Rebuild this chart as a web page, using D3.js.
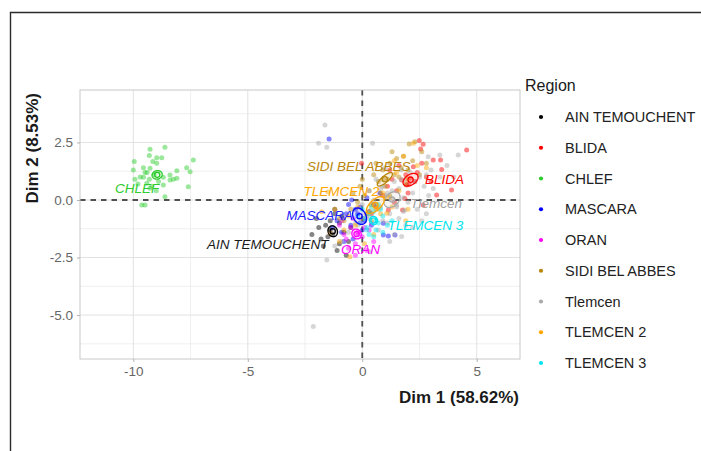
<!DOCTYPE html>
<html>
<head>
<meta charset="utf-8">
<script src="https://cdn.jsdelivr.net/npm/d3@7"></script>
<style>
  html, body { margin: 0; padding: 0; background: #fff; }
  svg { display: block; font-family: "Liberation Sans", Arial, Helvetica, sans-serif; }
</style>
</head>
<body>
<svg id="chart" width="701" height="451"></svg>
<script>
// ---- Individuals on the first factorial plane, grouped by region ----
const regions = ["AIN TEMOUCHENT", "BLIDA", "CHLEF", "MASCARA", "ORAN",
                 "SIDI BEL ABBES", "Tlemcen", "TLEMCEN 2", "TLEMCEN 3"];
const regionColors = ["#000000", "#ff0000", "#2ecc2e", "#0000ff", "#ff00ff",
                      "#b8860b", "#aaaaaa", "#ffa500", "#00e5ee"];

// Coordinates (Dim 1, Dim 2) of each individual
const ainTemouchent = [
  [-1.0,-1.0],[-1.5,-1.6],[-0.8,-1.4],[-1.9,-1.2],[-1.2,-0.6],[-0.6,-1.8],[-1.7,-2.0],
  [-1.4,-0.9],[-2.2,-1.5],[-0.9,-0.7],[-1.1,-2.2],[-1.6,-1.1],[-0.5,-1.2],[-2.0,-0.8],
  [-1.3,-1.5],[-0.7,-2.4],[-1.8,-1.7],[-1.2,-0.4],[-1.0,-1.9],[-1.4,-1.3]
];
const blida = [
  [2.49,2.58],[2.66,2.42],[2.55,2.22],[4.56,2.17],[3.10,1.74],[3.42,1.74],[3.47,1.33],
  [3.90,0.43],[3.25,0.22],[2.66,-0.22],[1.86,0.07],[1.94,0.65],[1.72,0.87],[2.23,1.45],
  [1.76,-0.43],[1.14,-0.43],[-0.03,1.60],[2.10,0.95],[2.30,0.80],[1.90,1.10],[2.05,0.70],
  [2.40,1.20],[1.50,0.40],[1.30,0.90],[0.90,0.20],[2.80,1.00],[1.60,1.50],[0.60,-0.30],
  [2.00,0.30],[1.20,1.30],[3.00,0.80],[1.40,-0.10],[2.60,1.60],[0.40,-0.60],[1.10,0.60]
];
const chlef = [
  [-8.62,2.29],[-9.27,2.20],[-9.30,1.93],[-8.98,1.84],[-8.76,1.84],[-9.96,1.67],[-9.15,1.67],
  [-8.98,1.60],[-7.38,1.74],[-7.67,1.40],[-7.52,1.23],[-8.10,1.27],[-9.56,1.40],[-9.27,1.38],
  [-10.0,1.30],[-9.49,1.19],[-8.40,1.09],[-8.25,0.90],[-8.10,0.94],[-9.93,0.90],[-9.56,0.99],
  [-8.69,0.65],[-7.60,0.58],[-9.27,0.51],[-8.62,0.14],[-9.63,-0.22],[-9.49,-0.22],[-8.69,0.99],
  [-9.41,0.73],[-8.40,0.87],[-9.10,1.10],[-9.30,0.90],[-9.70,1.00],[-9.00,0.40],[-9.40,1.20],
  [-9.80,0.70],[-9.20,0.60],[-8.90,0.80]
];
const mascara = [
  [-1.45,2.65],[-0.46,0.00],[0.77,0.29],[-0.83,-0.80],[0.92,-1.01],[0.92,-1.52],[1.14,-1.57],
  [1.43,-1.52],[-0.20,-0.60],[0.10,-0.90],[-0.50,-1.10],[-0.30,-0.40],[0.30,-0.50],[-0.70,-0.60],
  [0.00,-1.30],[-0.90,-1.40],[0.50,-0.20],[-1.10,-0.90],[-0.40,-1.70],[0.20,0.10],[-0.60,-0.20],
  [-1.30,-1.20],[0.40,-1.10],[-0.10,-0.30],[-0.80,-1.80]
];
const oran = [
  [-0.5,-1.2],[0.0,-1.6],[-0.3,-1.9],[0.3,-1.3],[-0.8,-1.5],[-0.1,-1.0],[0.5,-1.8],[-0.6,-2.1],
  [-0.2,-1.4],[0.2,-2.2],[-1.0,-1.1],[-0.4,-0.8],[0.1,-1.2],[-0.7,-1.7],[-0.3,-2.4],[0.4,-1.0],
  [-0.9,-0.9],[-0.2,-1.5]
];
const sidiBelAbbes = [
  [2.30,2.53],[2.05,2.43],[2.60,2.10],[1.80,1.90],[2.20,1.70],[1.50,1.80],[1.70,1.40],[1.20,1.60],
  [1.40,1.10],[0.90,1.30],[1.10,0.90],[0.70,0.80],[0.50,1.10],[0.30,0.40],[0.80,0.30],[0.10,0.20],
  [-0.20,-0.10],[0.40,-0.20],[-0.50,-0.40],[1.00,0.60],[1.60,1.00],[2.00,1.30],[2.80,1.60],
  [-1.00,-0.80],[0.60,1.60],[-0.10,0.60],[1.30,2.10],[2.50,1.10],[0.20,-0.60],[-0.80,-0.90],
  [1.90,0.70],[0.00,0.90],[1.20,0.20],[0.90,0.90],[-0.40,0.30]
];
const tlemcen = [
  [-2.14,-5.50],[-1.63,3.26],[-1.91,2.47],[-1.55,2.29],[0.45,2.47],[4.19,1.96],[3.39,1.96],
  [2.88,1.88],[1.50,-0.22],[1.86,-0.43],[1.72,-1.59],[1.35,0.00],[0.34,-2.25],[-1.55,-2.61],
  [1.0,0.2],[1.6,0.5],[2.2,0.3],[0.8,-0.3],[1.2,-0.6],[2.5,1.0],[3.0,1.3],[0.5,0.0],[1.9,0.9],
  [2.7,0.6],[0.2,-0.7],[1.4,0.8],[2.0,-0.1],[3.4,1.0],[0.9,0.6],[1.7,1.3],[2.8,-0.6],[-0.3,-1.0],
  [1.1,-1.0],[2.9,0.2],[0.6,0.9],[1.8,0.1],[3.7,1.5],[-0.6,-1.4],[1.3,0.4],[2.4,-0.4],[0.0,-0.2],
  [1.9,-1.1],[2.1,1.2],[3.1,0.5],[0.7,-1.3],[1.0,1.4],[2.6,-0.9],[-0.9,-1.8],[1.6,-0.8],[0.3,0.4],
  [1.4,-1.5],[2.2,-1.2],[1.2,-1.8],[4.0,1.0],[-1.2,-2.0],
  [0.8,0.5],[1.8,-0.5],[2.3,0.8],[0.3,-0.8],[1.7,0.9],[0.9,-0.9],[2.8,1.1],[-0.2,-1.1],
  [1.1,0.3],[1.5,-0.3]
];
const tlemcen2 = [
  [2.23,2.47],[1.80,1.90],[2.40,1.50],[1.50,1.20],[1.07,-0.58],[-1.50,0.35],[-0.54,-2.47],
  [-1.77,-0.51],[-1.41,-1.43],[0.60,-0.20],[0.90,0.30],[0.30,-0.50],[1.20,0.10],[0.00,-0.80],
  [0.70,-0.40],[-0.30,-1.10],[1.60,0.40],[0.40,-0.90],[2.00,0.90],[-0.80,-1.30],[1.30,-0.30],
  [0.20,-0.60],[2.80,1.40],[-1.00,-1.80],[0.80,-0.60],[1.00,0.10],[-0.20,-0.30],[0.50,-1.50],
  [1.90,-0.90],[-1.20,-0.40],[2.00,-0.40],[0.10,-1.90],[1.40,1.70],[-0.60,-0.70],[0.60,-0.40]
];
const tlemcen3 = [
  [0.3,-0.6],[0.7,-1.0],[0.5,-0.5],[0.2,-1.2],[0.9,-0.7],[0.6,-1.3],[0.1,-0.8],[1.1,-1.1],
  [0.4,-0.3],[0.8,-0.4],[-0.1,-1.0],[0.5,-1.6],[1.3,-0.9],[0.0,-0.4],[0.7,-0.2],[0.3,-1.5],
  [0.9,-1.4],[-0.2,-0.7],[0.6,-0.9],[0.2,-1.3]
];
const regionPoints = [ainTemouchent, blida, chlef, mascara, oran,
                      sidiBelAbbes, tlemcen, tlemcen2, tlemcen3];

// Axes
const xTicks = [-10, -5, 0, 5];
const xMinorTicks = [-7.5, -2.5, 2.5];
const yTicks = [2.5, 0, -2.5, -5];
const yMinorTicks = [3.75, 1.25, -1.25, -3.75, -6.25];
const xTickLabels = ["-10", "-5", "0", "5"];
const yTickLabels = ["2.5", "0.0", "-2.5", "-5.0"];
const xTitle = "Dim 1 (58.62%)";
const yTitle = "Dim 2 (8.53%)";
const legendTitle = "Region";

// ---- layout ----
const panel = { left: 80, right: 520, top: 90, bottom: 359 };
const svg = d3.select("#chart");

const x = d3.scaleLinear().domain([-12.33, 6.89]).range([panel.left, panel.right]);
const y = d3.scaleLinear().domain([-6.91, 4.78]).range([panel.bottom, panel.top]);

// page frame
svg.append("path")
  .attr("d", "M10.5,451 L10.5,12.5 L701,12.5")
  .attr("fill", "none").attr("stroke", "#2b2b2b").attr("stroke-width", 1.4);

svg.append("defs").append("clipPath").attr("id", "panelClip")
  .append("rect")
  .attr("x", panel.left).attr("y", panel.top)
  .attr("width", panel.right - panel.left).attr("height", panel.bottom - panel.top);

// grid
const grid = svg.append("g");
grid.selectAll(".vminor").data(xMinorTicks).join("line")
  .attr("x1", d => x(d)).attr("x2", d => x(d))
  .attr("y1", panel.top).attr("y2", panel.bottom)
  .attr("stroke", "#ebebeb").attr("stroke-width", 0.8);
grid.selectAll(".hminor").data(yMinorTicks).join("line")
  .attr("y1", d => y(d)).attr("y2", d => y(d))
  .attr("x1", panel.left).attr("x2", panel.right)
  .attr("stroke", "#ebebeb").attr("stroke-width", 0.8);
grid.selectAll(".vmajor").data(xTicks).join("line")
  .attr("x1", d => x(d)).attr("x2", d => x(d))
  .attr("y1", panel.top).attr("y2", panel.bottom)
  .attr("stroke", "#e2e2e2").attr("stroke-width", 1);
grid.selectAll(".hmajor").data(yTicks).join("line")
  .attr("y1", d => y(d)).attr("y2", d => y(d))
  .attr("x1", panel.left).attr("x2", panel.right)
  .attr("stroke", "#e2e2e2").attr("stroke-width", 1);

// reference lines through the origin
svg.append("line")
  .attr("x1", panel.left).attr("x2", panel.right).attr("y1", y(0)).attr("y2", y(0))
  .attr("stroke", "#505050").attr("stroke-width", 1.8).attr("stroke-dasharray", "5.5,5");
svg.append("line")
  .attr("y1", panel.top).attr("y2", panel.bottom).attr("x1", x(0)).attr("x2", x(0))
  .attr("stroke", "#505050").attr("stroke-width", 1.8).attr("stroke-dasharray", "5.5,5");

// individuals
const plot = svg.append("g").attr("clip-path", "url(#panelClip)");
regions.forEach((r, i) => {
  plot.append("g").selectAll("circle").data(regionPoints[i]).join("circle")
    .attr("cx", d => x(d[0])).attr("cy", d => y(d[1])).attr("r", 2.5)
    .attr("fill", regionColors[i]).attr("fill-opacity", 0.48);
});

// concentration ellipses around each group mean (covariance of the mean)
const ellipseLevel = 0.85;
const chi2q = -2 * Math.log(1 - ellipseLevel);   // chi-square quantile, 2 d.f.
function groupSummary(pts) {
  const n = pts.length;
  const mx = d3.mean(pts, d => d[0]), my = d3.mean(pts, d => d[1]);
  let sxx = 0, syy = 0, sxy = 0;
  pts.forEach(([a, b]) => { sxx += (a - mx) ** 2; syy += (b - my) ** 2; sxy += (a - mx) * (b - my); });
  sxx /= (n - 1) * n; syy /= (n - 1) * n; sxy /= (n - 1) * n;
  const tr = sxx + syy, det = sxx * syy - sxy * sxy;
  const disc = Math.sqrt(Math.max(tr * tr / 4 - det, 0));
  const l1 = tr / 2 + disc, l2 = Math.max(tr / 2 - disc, 0);
  const phi = 0.5 * Math.atan2(2 * sxy, sxx - syy);
  return { mx, my, a: Math.sqrt(chi2q * l1), b: Math.sqrt(chi2q * l2), phi };
}
const summaries = regionPoints.map(groupSummary);
const ellipseLine = d3.line().curve(d3.curveLinearClosed);
const angles = d3.range(0, 2 * Math.PI, Math.PI / 40);

const ell = svg.append("g").attr("clip-path", "url(#panelClip)");
summaries.forEach((s, i) => {
  const pts = angles.map(t => {
    const dx = s.a * Math.cos(t) * Math.cos(s.phi) - s.b * Math.sin(t) * Math.sin(s.phi);
    const dy = s.a * Math.cos(t) * Math.sin(s.phi) + s.b * Math.sin(t) * Math.cos(s.phi);
    return [x(s.mx + dx), y(s.my + dy)];
  });
  ell.append("path").attr("d", ellipseLine(pts))
    .attr("fill", regionColors[i]).attr("fill-opacity", 0.12)
    .attr("stroke", regionColors[i]).attr("stroke-width", 1.3);
  ell.append("circle").attr("cx", x(s.mx)).attr("cy", y(s.my)).attr("r", 2.6)
    .attr("fill", "none").attr("stroke", regionColors[i]).attr("stroke-width", 1.3);
});

// group labels, nudged away from their means
const labelNudge = {
  "AIN TEMOUCHENT": [-65, 13], "BLIDA": [34, 0], "CHLEF": [-20, 13],
  "MASCARA": [-40, -1], "ORAN": [4, 15], "SIDI BEL ABBES": [-26, -13],
  "Tlemcen": [44, 4], "TLEMCEN 2": [-34, -14], "TLEMCEN 3": [52, 5]
};
const labelColors = ["#1a1a1a", "#ff0000", "#2ecc2e", "#2222ff", "#ff00ff",
                     "#b8860b", "#a0a0a0", "#ffa500", "#00e5ee"];
regions.forEach((r, i) => {
  const s = summaries[i];
  svg.append("text")
    .attr("x", x(s.mx) + labelNudge[r][0]).attr("y", y(s.my) + labelNudge[r][1])
    .attr("dy", "0.35em").attr("text-anchor", "middle")
    .attr("font-style", "italic").attr("font-size", 13.5)
    .attr("fill", labelColors[i]).text(r);
});

// panel border
svg.append("rect")
  .attr("x", panel.left).attr("y", panel.top)
  .attr("width", panel.right - panel.left).attr("height", panel.bottom - panel.top)
  .attr("fill", "none").attr("stroke", "#c8c8c8").attr("stroke-width", 1);

// axes
const xAxis = svg.append("g").attr("transform", `translate(0,${panel.bottom})`)
  .call(d3.axisBottom(x).tickValues(xTicks).tickFormat((d, i) => xTickLabels[i])
    .tickSize(3).tickPadding(4));
const yAxis = svg.append("g").attr("transform", `translate(${panel.left},0)`)
  .call(d3.axisLeft(y).tickValues(yTicks).tickFormat((d, i) => yTickLabels[i])
    .tickSize(3).tickPadding(4));
[xAxis, yAxis].forEach(g => {
  g.select(".domain").remove();
  g.selectAll(".tick line").attr("stroke", "#b3b3b3");
  g.selectAll(".tick text").attr("fill", "#666").attr("font-size", 13.5)
    .attr("font-family", "Liberation Sans, Arial, sans-serif");
});

svg.append("text").attr("x", 519).attr("y", 403).attr("text-anchor", "end")
  .attr("font-weight", "bold").attr("font-size", 17).attr("fill", "#1a1a1a").text(xTitle);
svg.append("text").attr("transform", "translate(38,93) rotate(-90)")
  .attr("text-anchor", "end")
  .attr("font-weight", "bold").attr("font-size", 17).attr("fill", "#1a1a1a").text(yTitle);

// legend
const legend = svg.append("g");
legend.append("text").attr("x", 525).attr("y", 91).attr("font-size", 16)
  .attr("fill", "#1a1a1a").text(legendTitle);
const item = legend.selectAll(".item").data(regions).join("g")
  .attr("transform", (d, i) => `translate(0,${117 + i * 30.75})`);
item.append("circle").attr("cx", 541).attr("cy", 0).attr("r", 2.1)
  .attr("fill", (d, i) => regionColors[i]);
item.append("text").attr("x", 565).attr("dy", "0.35em").attr("font-size", 14.5)
  .attr("fill", "#222").text(d => d);
</script>
</body>
</html>
